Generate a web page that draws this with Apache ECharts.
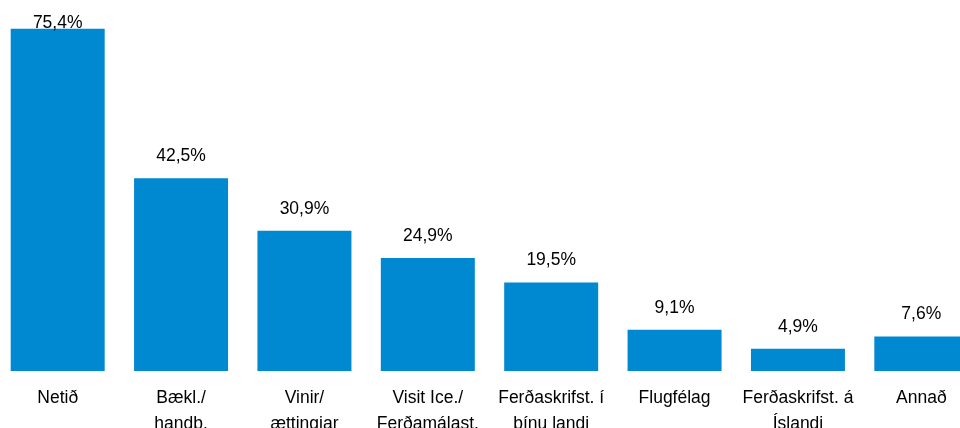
<!DOCTYPE html>
<html>
<head>
<meta charset="utf-8">
<script src="https://cdn.jsdelivr.net/npm/echarts@6/dist/echarts.min.js"></script>
<style>
html,body{margin:0;padding:0;background:#fff;}
#chart{width:960px;height:428px;}
</style>
</head>
<body>
<div id="chart"></div>
<script>
const categories = [
  "Netið",
  "Bækl./\nhandb.",
  "Vinir/\nættingjar",
  "Visit Ice./\nFerðamálast.",
  "Ferðaskrifst. í\nþínu landi",
  "Flugfélag",
  "Ferðaskrifst. á\nÍslandi",
  "Annað"
];
const values = [75.4, 42.5, 30.9, 24.9, 19.5, 9.1, 4.9, 7.6];

const FONT = '"Liberation Sans", Arial, sans-serif';
const chart = echarts.init(document.getElementById('chart'), null, {renderer: 'canvas'});

const data = values.map((v, i) => {
  const item = {value: v};
  if (i === 0) item.label = {distance: -3};
  return item;
});

chart.setOption({
  animation: false,
  backgroundColor: '#ffffff',
  grid: {left: -4, right: -23, top: 8, bottom: 57, containLabel: false, outerBoundsMode: 'none'},
  xAxis: {
    type: 'category',
    data: categories,
    axisLine: {show: false},
    axisTick: {show: false},
    axisLabel: {
      interval: 0,
      margin: 14,
      color: '#000',
      fontFamily: FONT,
      fontSize: 17.5,
      lineHeight: 26
    }
  },
  yAxis: {
    type: 'value',
    min: 0,
    max: 80,
    show: false,
    splitLine: {show: false}
  },
  series: [{
    type: 'bar',
    data: data,
    barWidth: 94,
    itemStyle: {color: '#0088d1'},
    label: {
      show: true,
      position: 'top',
      distance: 13,
      color: '#000',
      fontFamily: FONT,
      fontSize: 17.5,
      formatter: p => p.value.toFixed(1).replace('.', ',') + '%'
    }
  }]
});
</script>
</body>
</html>
